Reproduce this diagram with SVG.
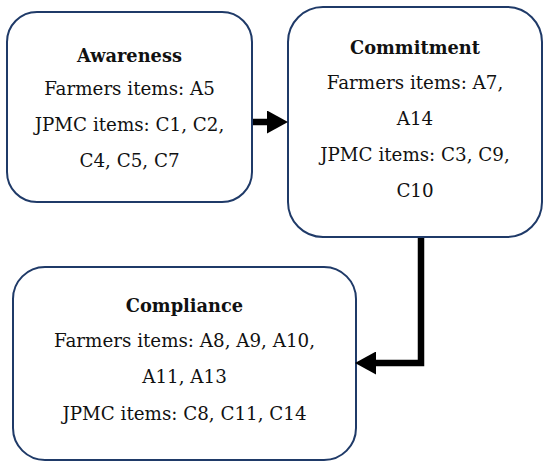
<svg xmlns="http://www.w3.org/2000/svg" width="550" height="466" viewBox="0 0 550 466">
<style>
.box{fill:#ffffff;stroke:#1f3a68;stroke-width:2}
.t{font-family:'DejaVu Serif',serif;font-size:18.3px;fill:#111111;text-anchor:middle}
.h{font-weight:bold;font-size:17.8px}
.c{fill:none;stroke:#000000;stroke-width:6.5;stroke-linejoin:miter}
</style>
<defs>
<marker id="ah" markerUnits="userSpaceOnUse" markerWidth="21" markerHeight="23" refX="0" refY="11.5" orient="auto">
<path d="M0,0 L21,11.5 L0,23 Z" fill="#000000"/>
</marker>
</defs>
<rect width="550" height="466" fill="#ffffff"/>
<g id="awareness">
<rect class="box" x="7" y="12" width="245" height="190" rx="30" ry="30"/>
<text class="t h" x="129.5" y="62">Awareness</text>
<text class="t" x="129.5" y="95">Farmers items: A5</text>
<text class="t" x="129.5" y="131">JPMC items: C1, C2,</text>
<text class="t" x="129.5" y="167">C4, C5, C7</text>
</g>
<g id="commitment">
<rect class="box" x="288" y="7" width="254" height="230" rx="35" ry="35"/>
<text class="t h" x="415" y="54">Commitment</text>
<text class="t" x="415" y="89">Farmers items: A7,</text>
<text class="t" x="415" y="125">A14</text>
<text class="t" x="415" y="161">JPMC items: C3, C9,</text>
<text class="t" x="415" y="197">C10</text>
</g>
<g id="compliance">
<rect class="box" x="13" y="267" width="343" height="193" rx="32" ry="32"/>
<text class="t h" x="184.5" y="312">Compliance</text>
<text class="t" x="184.5" y="347">Farmers items: A8, A9, A10,</text>
<text class="t" x="184.5" y="383">A11, A13</text>
<text class="t" x="184.5" y="420">JPMC items: C8, C11, C14</text>
</g>
<g id="connectors">
<path class="c" d="M253,122 H267" marker-end="url(#ah)"/>
<path class="c" d="M421,238 V363 H376" marker-end="url(#ah)"/>
</g>
</svg>
